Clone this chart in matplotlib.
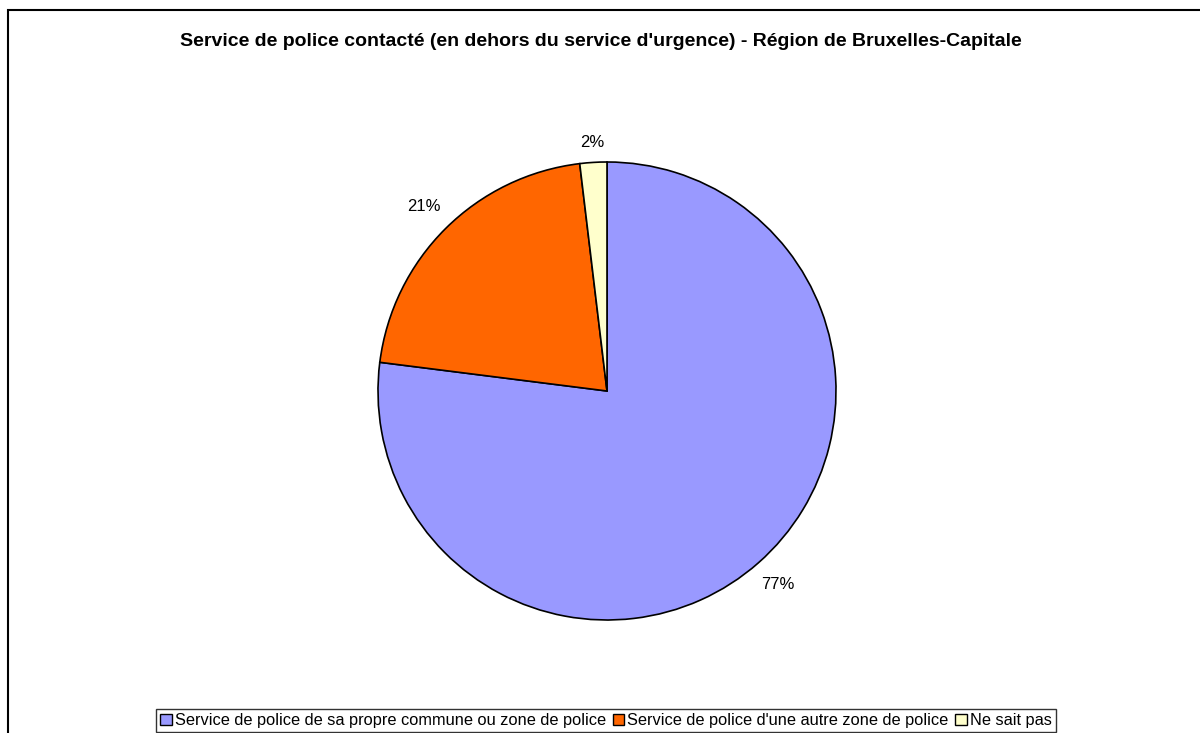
import matplotlib.pyplot as plt
import matplotlib.patches as mpatches
import numpy as np

plt.rcParams['font.family'] = ['Liberation Sans', 'DejaVu Sans']

# data
categories = ["Service de police de sa propre commune ou zone de police",
              "Service de police d'une autre zone de police",
              "Ne sait pas"]
values = [77.0, 21.1, 1.9]
pct_labels = ["77%", "21%", "2%"]
colors = ["#9999FF", "#FF6600", "#FFFFCC"]
title = "Service de police contacté (en dehors du service d'urgence) - Région de Bruxelles-Capitale"

W, H = 1200, 733
fig = plt.figure(figsize=(12, 7.33), dpi=100)

# outer chart frame (right and bottom sides run off the image)
fig.patches.append(mpatches.Rectangle((8 / W, -0.1), 1.2, 1 - 10 / H + 0.1,
                                      transform=fig.transFigure, fill=False,
                                      edgecolor='black', linewidth=1.5))

fig.text(601 / W, 1 - 41 / H, title, ha='center', va='center',
         fontsize=14, fontweight='bold')

# pie axes: center (607, 391), radius 229 px
r = 229
ax = fig.add_axes([(607 - r) / W, 1 - (391 + r) / H, 2 * r / W, 2 * r / H])
wedges, _ = ax.pie(values, colors=colors, startangle=90, counterclock=False,
                   wedgeprops=dict(edgecolor='black', linewidth=1.2))
ax.set_xlim(-1, 1)
ax.set_ylim(-1, 1)
ax.set_aspect('equal')

# percentage labels outside the slices
dists = [1.125, 1.135, 1.085]
for w, lab, d in zip(wedges, pct_labels, dists):
    ang = np.deg2rad((w.theta1 + w.theta2) / 2)
    ax.text(d * np.cos(ang), d * np.sin(ang), lab, ha='center', va='center',
            fontsize=12, clip_on=False)

handles = [mpatches.Patch(facecolor=c, edgecolor='black', linewidth=1) for c in colors]
leg = fig.legend(handles, categories, loc='upper center',
                 bbox_to_anchor=(606 / W, 1 - 709 / H), ncol=3, fontsize=11.8,
                 frameon=True, fancybox=False, edgecolor='black',
                 handlelength=0.7, handleheight=0.7, handletextpad=0.2,
                 columnspacing=0.4, borderpad=0.25, borderaxespad=0)
leg.get_frame().set_linewidth(1)

fig.savefig("out.png", dpi=100)
